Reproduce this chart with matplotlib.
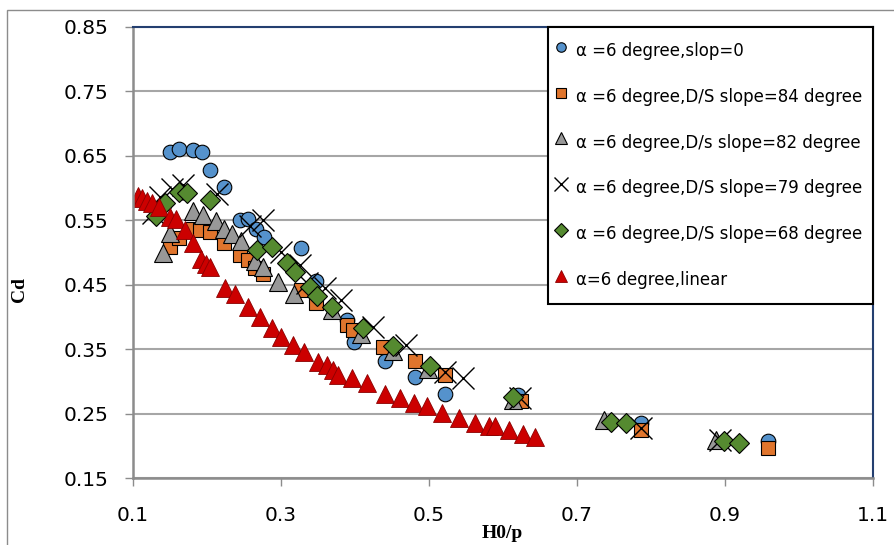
import numpy as np
import matplotlib
matplotlib.use('Agg')
import matplotlib.pyplot as plt
from matplotlib.patches import Rectangle

# H0/p and Cd values, one pair of lists per series
slop0_h = [0.151, 0.162, 0.182, 0.194, 0.204, 0.224, 0.245, 0.256, 0.267, 0.277,
           0.328, 0.348, 0.389, 0.399, 0.441, 0.482, 0.522, 0.621, 0.787, 0.959]
slop0_cd = [0.655, 0.660, 0.659, 0.656, 0.627, 0.601, 0.550, 0.551, 0.536, 0.524,
            0.506, 0.456, 0.395, 0.361, 0.332, 0.306, 0.280, 0.279, 0.236, 0.208]

s84_h = [0.151, 0.163, 0.180, 0.191, 0.204, 0.223, 0.245, 0.256, 0.265, 0.276,
         0.328, 0.348, 0.389, 0.398, 0.438, 0.482, 0.522, 0.625, 0.787, 0.959]
s84_cd = [0.509, 0.522, 0.537, 0.535, 0.532, 0.514, 0.496, 0.488, 0.475, 0.467,
          0.442, 0.421, 0.387, 0.380, 0.353, 0.331, 0.310, 0.270, 0.224, 0.196]

s82_h = [0.141, 0.151, 0.182, 0.195, 0.212, 0.224, 0.234, 0.247, 0.265, 0.276,
         0.297, 0.318, 0.370, 0.409, 0.452, 0.499, 0.614, 0.737, 0.888]
s82_cd = [0.499, 0.530, 0.564, 0.558, 0.549, 0.537, 0.528, 0.517, 0.487, 0.477,
          0.454, 0.435, 0.410, 0.374, 0.347, 0.319, 0.271, 0.240, 0.209]

s79_h = [0.128, 0.137, 0.153, 0.168, 0.214, 0.258, 0.276, 0.301, 0.326, 0.335,
         0.360, 0.382, 0.425, 0.470, 0.522, 0.546, 0.623, 0.787, 0.893]
s79_cd = [0.561, 0.586, 0.599, 0.604, 0.590, 0.541, 0.550, 0.501, 0.480, 0.452,
          0.444, 0.426, 0.385, 0.356, 0.314, 0.305, 0.274, 0.227, 0.209]

s68_h = [0.131, 0.144, 0.162, 0.173, 0.204, 0.268, 0.288, 0.308, 0.319, 0.339,
         0.349, 0.370, 0.411, 0.452, 0.502, 0.614, 0.746, 0.767, 0.899, 0.919]
s68_cd = [0.556, 0.577, 0.594, 0.592, 0.581, 0.504, 0.509, 0.483, 0.469, 0.446,
          0.433, 0.415, 0.382, 0.354, 0.324, 0.276, 0.237, 0.235, 0.207, 0.204]

linear_h = [0.107, 0.113, 0.119, 0.126, 0.135, 0.150, 0.159, 0.171, 0.182, 0.193,
            0.199, 0.204, 0.225, 0.238, 0.256, 0.272, 0.288, 0.301, 0.317, 0.332,
            0.351, 0.362, 0.371, 0.378, 0.396, 0.417, 0.441, 0.461, 0.480, 0.498,
            0.518, 0.541, 0.563, 0.582, 0.590, 0.608, 0.627, 0.643]
linear_cd = [0.588, 0.584, 0.580, 0.576, 0.571, 0.555, 0.551, 0.534, 0.514, 0.490,
             0.482, 0.477, 0.444, 0.436, 0.416, 0.399, 0.382, 0.369, 0.357, 0.345,
             0.330, 0.325, 0.317, 0.310, 0.305, 0.297, 0.281, 0.274, 0.266, 0.261,
             0.251, 0.243, 0.236, 0.230, 0.230, 0.224, 0.219, 0.214]

labels = ['\u03b1 =6 degree,slop=0',
          '\u03b1 =6 degree,D/S slope=84 degree',
          '\u03b1 =6 degree,D/s slope=82 degree',
          '\u03b1 =6 degree,D/S slope=79 degree',
          '\u03b1 =6 degree,D/S slope=68 degree',
          '\u03b1=6 degree,linear']

x_ticks = [0.1, 0.3, 0.5, 0.7, 0.9, 1.1]
y_ticks = [0.15, 0.25, 0.35, 0.45, 0.55, 0.65, 0.75, 0.85]

fig = plt.figure(figsize=(8.94, 5.45), dpi=100)
ax = fig.add_axes([0.1484, 0.1229, 0.8278, 0.8281])

ax.plot(slop0_h, slop0_cd, 'o', ms=10.5, mfc='#5592CC', mec='black', mew=0.8, label=labels[0])
ax.plot(s84_h, s84_cd, 's', ms=10.5, mfc='#E0752D', mec='black', mew=0.8, label=labels[1])
ax.plot(s82_h, s82_cd, '^', ms=12.5, mfc='#989898', mec='black', mew=0.8, label=labels[2])
ax.plot(s79_h, s79_cd, 'x', ms=16, mec='black', mew=1.0, label=labels[3])
ax.plot(s68_h, s68_cd, 'D', ms=10.5, mfc='#558A30', mec='black', mew=0.8, label=labels[4])
ax.plot(linear_h, linear_cd, '^', ms=12.5, mfc='#CC0000', mec='#8B0000', mew=0.6, label=labels[5])

ax.set_xlim(0.1, 1.1)
ax.set_ylim(0.15, 0.85)
ax.set_xticks(x_ticks)
ax.set_yticks(y_ticks)
ax.set_xticklabels([f'{v:.1f}' for v in x_ticks])
ax.set_yticklabels([f'{v:.2f}' for v in y_ticks])
ax.tick_params(axis='both', labelsize=14.5, direction='out', length=6, width=1,
               color='#8C8C8C')
ax.tick_params(axis='x', pad=14)
ax.tick_params(axis='y', pad=11.5)

ax.yaxis.grid(True, color='#A6A6A6', linewidth=1.5)
ax.set_axisbelow(True)

for side in ['left', 'bottom']:
    ax.spines[side].set_color('#8C8C8C')
    ax.spines[side].set_linewidth(1.8)
for side in ['top', 'right']:
    ax.spines[side].set_color('#243F70')
    ax.spines[side].set_linewidth(1.5)

ax.set_xlabel('H0/p', family='Liberation Serif', fontweight='bold', fontsize=14)
ax.set_ylabel('Cd', family='Liberation Serif', fontweight='bold', fontsize=14)
ax.xaxis.set_label_coords(0.5, -0.104)
ax.yaxis.set_label_coords(-0.1415, 0.417)

leg = ax.legend(loc='upper right', bbox_to_anchor=(1.0, 1.0), borderaxespad=0,
                fontsize=12, markerscale=0.65, handlelength=0.3, handleheight=2.0,
                handletextpad=0.7, labelspacing=1.21, borderpad=0.65,
                fancybox=False, framealpha=1)
leg.get_frame().set_edgecolor('black')
leg.get_frame().set_linewidth(1.5)

# outer chart border
fig.add_artist(Rectangle((7 / 894, -0.05), 1.2, 1 - 10 / 545 + 0.05, transform=fig.transFigure,
                         fill=False, ec='#8C8C8C', lw=1, clip_on=False))

fig.savefig('out.png', dpi=100)
